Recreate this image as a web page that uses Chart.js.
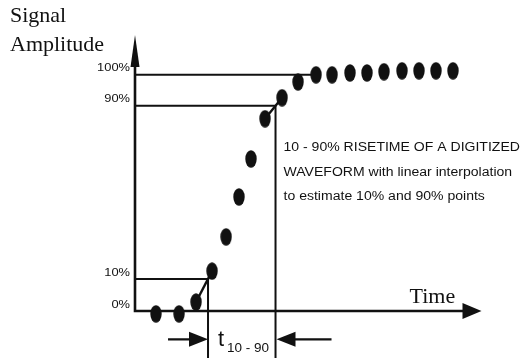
<!DOCTYPE html>
<html>
<head>
<meta charset="utf-8">
<script src="https://cdn.jsdelivr.net/npm/chart.js@4.4.0/dist/chart.umd.min.js"></script>
<style>
  html, body { margin: 0; padding: 0; background: #fff; }
</style>
</head>
<body>
<canvas id="c" width="525" height="358"></canvas>
<script>
// digitized waveform: sample times (arbitrary units) and amplitude (% of final value)
const sampleTimes = [1.27, 2.67, 3.70, 4.67, 5.52, 6.30, 7.03, 7.88, 8.91, 9.88, 10.97, 11.94, 13.03, 14.06, 15.09, 16.18, 17.21, 18.24, 19.27];
const sampleAmps  = [-1.2, -1.2, 3.8, 16.9, 31.4, 48.3, 64.4, 81.4, 90.3, 97.0, 100, 100, 100.8, 100.8, 101.3, 101.7, 101.7, 101.7, 101.7];

// levels marked on the amplitude axis (figure is schematic, not to scale)
const levelValues = [0, 13.6, 86.9, 100];
const levelLabels = ['0%', '10%', '90%', '100%'];

const noteLines = ['10 - 90% RISETIME OF A DIGITIZED', 'WAVEFORM with linear interpolation', 'to estimate 10% and 90% points'];

const INK = '#111';
const pts = sampleTimes.map((t, i) => ({x: t, y: sampleAmps[i]}));

// time where the waveform crosses a level, by linear interpolation between samples
function crossing(level) {
  for (let i = 0; i < pts.length - 1; i++) {
    if (pts[i].y < level && pts[i + 1].y >= level) {
      const f = (level - pts[i].y) / (pts[i + 1].y - pts[i].y);
      return {i: i, t: pts[i].x + f * (pts[i + 1].x - pts[i].x)};
    }
  }
  return null;
}
const c10 = crossing(levelValues[1]);
const c90 = crossing(levelValues[2]);
const c100 = crossing(levelValues[3]);

// tall elliptical dot, like the printed figure
const dot = document.createElement('canvas');
dot.width = 12; dot.height = 18;
(function () {
  const g = dot.getContext('2d');
  g.fillStyle = INK;
  g.beginPath();
  g.ellipse(6, 9, 5.7, 8.7, 0, 0, Math.PI * 2);
  g.fill();
})();

function lineSet(data, w) {
  return {data: data, showLine: true, borderColor: INK, borderWidth: w || 2,
          pointRadius: 0, tension: 0, clip: false};
}

function sx(ctx, text, x, y, k, align) {
  ctx.save();
  ctx.translate(x, y);
  ctx.scale(k, 1);
  ctx.textAlign = align || 'left';
  ctx.fillText(text, 0, 0);
  ctx.restore();
}

const decor = {
  id: 'decor',
  beforeDatasetsDraw(chart) {
    const {ctx, chartArea: a, scales: {x, y}} = chart;
    ctx.save();
    ctx.strokeStyle = INK; ctx.fillStyle = INK;
    ctx.lineWidth = 2.6;
    ctx.beginPath();
    ctx.moveTo(a.left, a.top + 20);
    ctx.lineTo(a.left, a.bottom);
    ctx.lineTo(a.right - 15, a.bottom);
    ctx.stroke();
    // axis arrowheads
    ctx.beginPath();
    ctx.moveTo(a.left, a.top - 2);
    ctx.lineTo(a.left + 4.5, a.top + 30);
    ctx.lineTo(a.left - 4.5, a.top + 30);
    ctx.closePath(); ctx.fill();
    ctx.beginPath();
    ctx.moveTo(a.right, a.bottom);
    ctx.lineTo(a.right - 19, a.bottom - 8);
    ctx.lineTo(a.right - 19, a.bottom + 8);
    ctx.closePath(); ctx.fill();

    // t 10-90 dimension arrows
    const ay = y.getPixelForValue(-12);
    const x10 = x.getPixelForValue(c10.t), x90 = x.getPixelForValue(c90.t);
    ctx.lineWidth = 2.2;
    ctx.beginPath();
    ctx.moveTo(x10 - 40, ay); ctx.lineTo(x10 - 15, ay);
    ctx.moveTo(x90 + 15, ay); ctx.lineTo(x90 + 56, ay);
    ctx.stroke();
    ctx.beginPath();
    ctx.moveTo(x10, ay); ctx.lineTo(x10 - 19, ay - 7.5); ctx.lineTo(x10 - 19, ay + 7.5);
    ctx.closePath(); ctx.fill();
    ctx.beginPath();
    ctx.moveTo(x90 + 1, ay); ctx.lineTo(x90 + 20, ay - 7.5); ctx.lineTo(x90 + 20, ay + 7.5);
    ctx.closePath(); ctx.fill();
    ctx.restore();
  },
  afterDraw(chart) {
    const {ctx, chartArea: a, scales: {x, y}} = chart;
    ctx.save();
    ctx.fillStyle = INK;
    ctx.textBaseline = 'middle';
    ctx.font = '11.5px "Liberation Sans", Arial, sans-serif';
    levelValues.forEach((v, i) => {
      sx(ctx, levelLabels[i], a.left - 5, y.getPixelForValue(v) - 6.5, 1.12, 'right');
    });

    ctx.textBaseline = 'alphabetic';
    ctx.font = '22px "Liberation Serif", "Times New Roman", serif';
    ctx.fillText('Signal', 10, 22);
    ctx.fillText('Amplitude', 10, 51);
    ctx.fillText('Time', a.right - 72, a.bottom - 8);

    const x10 = x.getPixelForValue(c10.t), x90 = x.getPixelForValue(c90.t);
    ctx.font = '12px "Liberation Sans", Arial, sans-serif';
    noteLines.forEach((s, i) => sx(ctx, s, x90 + 8, 151 + i * 24.5, 1.17));

    const ay = y.getPixelForValue(-12);
    ctx.font = '22px "Liberation Sans", Arial, sans-serif';
    ctx.fillText('t', x10 + 10, ay + 7);
    ctx.font = '13.5px "Liberation Sans", Arial, sans-serif';
    ctx.fillText('10 - 90', x10 + 19, ay + 13);
    ctx.restore();
  }
};

const bottomVal = -20;
new Chart(document.getElementById('c'), {
  type: 'scatter',
  data: {
    datasets: [
      {data: pts, pointStyle: dot, pointRadius: 9, showLine: false, clip: false},
      lineSet([pts[c10.i], pts[c10.i + 1]], 2.4),
      lineSet([pts[c90.i], pts[c90.i + 1]], 2.4),
      lineSet([{x: 0, y: levelValues[1]}, {x: c10.t, y: levelValues[1]}, {x: c10.t, y: bottomVal}]),
      lineSet([{x: 0, y: levelValues[2]}, {x: c90.t, y: levelValues[2]}, {x: c90.t, y: bottomVal}]),
      lineSet([{x: 0, y: levelValues[3]}, {x: c100.t, y: levelValues[3]}])
    ]
  },
  options: {
    responsive: false,
    animation: false,
    layout: {padding: {left: 135, right: 43.5, top: 37, bottom: 47}},
    scales: {
      x: {type: 'linear', min: 0, max: 21, display: false},
      y: {type: 'linear', min: 0, max: 116, display: false}
    },
    plugins: {legend: {display: false}, tooltip: {enabled: false}}
  },
  plugins: [decor]
});
</script>
</body>
</html>
